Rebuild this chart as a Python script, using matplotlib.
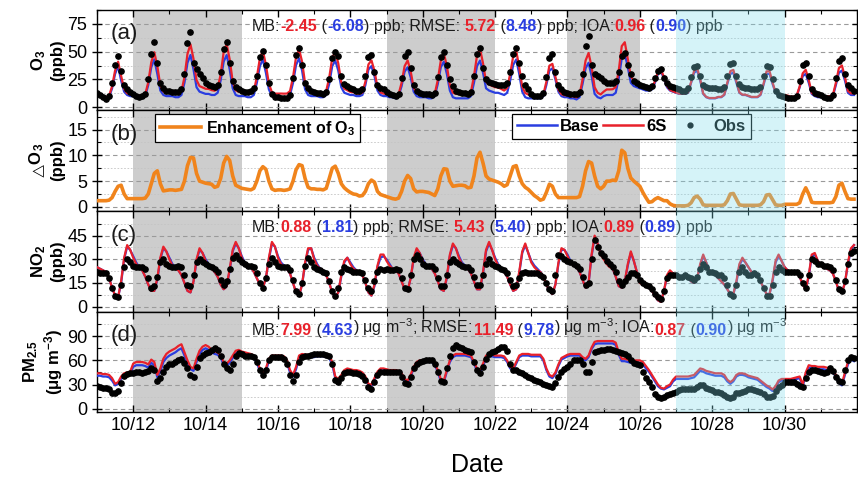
import matplotlib
matplotlib.use("Agg")
import matplotlib.pyplot as plt
import matplotlib.dates as mdates
from matplotlib import font_manager
import numpy as np
import pandas as pd

plt.rcParams["font.family"] = ["Liberation Sans", "DejaVu Sans"]
plt.rcParams["mathtext.fontset"] = "custom"
plt.rcParams["mathtext.rm"] = "Liberation Sans"
plt.rcParams["mathtext.it"] = "Liberation Sans:italic"
plt.rcParams["mathtext.bf"] = "Liberation Sans:bold"
plt.rcParams["mathtext.fallback"] = "stixsans"
plt.rcParams["axes.linewidth"] = 1.0

installed = {f.name for f in font_manager.fontManager.ttflist}
narrow = "Liberation Sans Narrow" if "Liberation Sans Narrow" in installed else "Liberation Sans"

# 2-hourly values, 10/11 00:00 -> 10/31 22:00 (12 values per day)
times = pd.date_range("2019-10-11", periods=252, freq="2h")

o3_obs = [
    13, 11, 9, 7, 10, 22, 38, 46, 33, 20, 16, 14,
    12, 10, 9, 10, 12, 25, 48, 59, 40, 22, 17, 15,
    15, 14, 14, 14, 16, 30, 58, 68, 40, 34, 30, 26,
    22, 20, 19, 18, 20, 32, 52, 59, 40, 24, 18, 16,
    15, 14, 14, 15, 17, 28, 45, 51, 38, 22, 12, 9,
    9, 8, 8, 8, 11, 26, 47, 53, 38, 22, 17, 15,
    14, 13, 13, 12, 14, 25, 44, 50, 46, 28, 21, 19,
    17, 16, 15, 15, 16, 28, 45, 47, 32, 20, 17, 16,
    14, 12, 11, 10, 12, 26, 46, 50, 35, 20, 15, 13,
    12, 12, 12, 11, 13, 27, 45, 50, 38, 25, 19, 15,
    14, 13, 13, 12, 14, 28, 48, 53, 35, 25, 23, 22,
    21, 20, 20, 20, 22, 32, 48, 53, 40, 28, 20, 16,
    12, 10, 10, 10, 13, 27, 44, 48, 32, 20, 16, 14,
    13, 12, 12, 12, 14, 30, 55, 64, 38, 30, 28, 26,
    24, 22, 22, 22, 24, 32, 46, 49, 38, 30, 24, 22,
    20, 19, 18, 17, 19, 26, 33, 34, 26, 22, 19, 18,
    17, 16, 15, 15, 17, 27, 36, 37, 28, 20, 18, 17,
    17, 17, 16, 16, 18, 28, 39, 40, 28, 21, 18, 17,
    17, 16, 16, 16, 18, 28, 37, 36, 25, 15, 11, 10,
    9, 8, 8, 8, 10, 24, 38, 40, 28, 16, 13, 12,
    11, 9, 8, 8, 11, 26, 42, 44, 30, 20, 17, 15,
]
o3_base = [
    11, 10, 9, 8, 9, 17, 30, 37, 24, 14, 11, 10,
    10, 9, 9, 8, 10, 20, 36, 43, 30, 15, 11, 10,
    10, 10, 9, 9, 11, 22, 40, 47, 34, 18, 14, 13,
    12, 12, 11, 11, 13, 24, 41, 47, 34, 17, 11, 10,
    10, 10, 9, 9, 11, 22, 37, 43, 31, 16, 10, 9,
    9, 9, 9, 9, 11, 22, 38, 44, 33, 16, 11, 10,
    10, 10, 9, 9, 11, 21, 37, 42, 33, 18, 13, 12,
    11, 11, 10, 10, 11, 20, 34, 37, 28, 15, 11, 10,
    10, 9, 9, 8, 10, 19, 32, 36, 27, 14, 10, 9,
    9, 9, 8, 8, 10, 21, 36, 41, 30, 15, 9, 8,
    8, 8, 8, 8, 10, 22, 37, 42, 31, 17, 15, 14,
    13, 13, 12, 11, 13, 24, 38, 43, 30, 14, 9, 8,
    8, 8, 8, 8, 10, 20, 33, 35, 25, 14, 10, 9,
    9, 8, 8, 7, 9, 21, 35, 40, 28, 12, 9, 8,
    10, 11, 11, 11, 13, 26, 44, 48, 36, 22, 19, 18,
    17, 16, 15, 15, 16, 22, 30, 32, 26, 18, 15, 14,
    13, 12, 12, 12, 13, 22, 31, 33, 24, 12, 9, 8,
    8, 8, 9, 9, 11, 21, 30, 31, 22, 13, 11, 11,
    10, 9, 9, 9, 11, 20, 30, 30, 21, 13, 11, 10,
    10, 10, 9, 9, 10, 18, 28, 30, 22, 12, 10, 9,
    9, 9, 9, 9, 10, 20, 31, 33, 24, 13, 11, 11,
]
# O3 enhancement of the 6S run over Base
d_o3 = [
    1.2, 1.2, 1.2, 1.2, 1.3, 1.8, 3.0, 4.0, 4.2, 2.5, 1.6, 1.6,
    1.6, 1.6, 1.6, 1.6, 1.7, 2.5, 4.5, 6.5, 7.0, 4.5, 3.1, 3.2,
    3.3, 3.3, 3.2, 3.3, 3.4, 5.0, 8.0, 9.6, 9.5, 6.5, 5.0, 4.8,
    4.6, 4.5, 4.4, 3.8, 4.0, 5.5, 8.5, 9.8, 9.0, 6.0, 4.2, 3.9,
    3.6, 3.5, 3.4, 3.3, 3.6, 5.0, 7.0, 7.8, 7.3, 5.0, 3.5, 3.2,
    3.3, 3.3, 3.2, 3.3, 3.5, 5.0, 7.2, 8.2, 8.0, 5.5, 3.8, 3.5,
    3.5, 3.4, 3.4, 3.3, 3.6, 5.5, 7.5, 7.9, 6.5, 4.5, 3.7, 3.2,
    2.8, 2.5, 2.4, 2.1, 2.2, 3.0, 4.5, 5.2, 4.8, 3.0, 2.4, 2.2,
    2.0, 1.8, 1.6, 1.5, 1.7, 3.0, 5.0, 6.1, 5.5, 3.5, 2.9, 3.0,
    3.0, 2.9, 2.8, 2.5, 2.2, 3.5, 6.0, 7.4, 7.3, 5.0, 4.0, 4.1,
    4.2, 4.2, 4.1, 3.7, 3.8, 6.0, 9.5, 10.6, 8.5, 6.0, 5.4, 5.2,
    5.0, 4.8, 4.5, 4.0, 4.3, 6.0, 7.8, 8.0, 6.0, 4.5, 3.8, 3.4,
    2.8, 2.2, 1.8, 1.3, 1.5, 2.8, 4.4, 4.0, 2.5, 1.8, 1.8, 1.8,
    1.8, 1.8, 1.8, 1.8, 2.0, 4.0, 7.0, 8.8, 8.5, 6.0, 4.0, 3.5,
    4.0, 5.0, 5.0, 5.2, 5.1, 7.0, 11.0, 10.5, 7.5, 5.6, 5.0, 4.5,
    4.0, 2.8, 1.8, 0.9, 1.0, 1.5, 1.8, 1.5, 1.2, 1.2, 0.6, 0.3,
    0.2, 0.2, 0.2, 0.2, 0.3, 0.8, 1.8, 2.1, 1.5, 0.4, 0.3, 0.3,
    0.3, 0.3, 0.3, 0.3, 0.4, 1.2, 2.5, 2.6, 1.5, 0.4, 0.3, 0.3,
    0.3, 0.3, 0.3, 0.3, 0.4, 1.0, 2.3, 2.4, 1.4, 0.4, 0.3, 0.3,
    0.5, 0.5, 0.5, 0.5, 0.5, 0.8, 2.5, 3.7, 2.5, 0.9, 0.8, 0.8,
    0.8, 0.8, 0.8, 0.8, 0.9, 2.0, 4.2, 4.6, 3.0, 1.6, 1.5, 1.5,
]

no2_obs = [
    22, 21, 21, 21, 18, 12, 7, 6, 14, 25, 30, 28,
    26, 25, 25, 25, 24, 18, 12, 13, 19, 28, 30, 27,
    26, 25, 25, 26, 25, 20, 14, 13, 20, 28, 30, 28,
    27, 26, 25, 24, 22, 17, 14, 16, 24, 31, 33, 30,
    28, 27, 26, 26, 25, 21, 15, 12, 18, 27, 31, 28,
    26, 25, 25, 25, 23, 17, 10, 8, 15, 26, 31, 28,
    25, 24, 23, 22, 21, 16, 10, 7, 12, 22, 25, 24,
    23, 22, 22, 22, 21, 17, 12, 10, 16, 22, 24, 23,
    24, 23, 23, 24, 23, 18, 12, 11, 20, 30, 33, 30,
    27, 26, 26, 26, 24, 18, 13, 13, 20, 28, 30, 28,
    27, 26, 25, 25, 23, 19, 14, 14, 20, 27, 30, 27,
    26, 25, 24, 23, 21, 17, 13, 14, 18, 21, 22, 21,
    21, 21, 21, 20, 19, 15, 11, 10, 20, 33, 32, 30,
    29, 28, 27, 26, 24, 19, 14, 15, 30, 42, 38, 34,
    32, 29, 27, 25, 22, 16, 14, 16, 19, 21, 21, 20,
    17, 15, 14, 13, 11, 8, 6, 5, 10, 18, 20, 20,
    20, 19, 19, 20, 19, 18, 17, 19, 24, 27, 25, 22,
    22, 21, 20, 20, 18, 14, 8, 7, 14, 22, 25, 22,
    20, 20, 21, 20, 17, 12, 7, 7, 14, 22, 25, 23,
    22, 22, 22, 22, 22, 20, 15, 12, 20, 30, 29, 27,
    27, 26, 26, 25, 23, 17, 11, 10, 16, 27, 34, 35,
]
no2_base = [
    25, 24, 23, 22, 18, 12, 7, 6, 15, 30, 38, 36,
    32, 28, 25, 23, 19, 14, 10, 10, 17, 30, 37, 35,
    31, 27, 25, 23, 20, 15, 10, 9, 16, 29, 36, 34,
    30, 27, 25, 22, 19, 14, 11, 13, 23, 35, 40, 37,
    32, 28, 26, 25, 22, 18, 14, 12, 18, 30, 40, 38,
    32, 28, 26, 24, 21, 15, 9, 7, 14, 27, 36, 37,
    31, 27, 24, 23, 20, 15, 9, 6, 9, 19, 28, 31,
    28, 25, 23, 22, 20, 15, 9, 7, 13, 25, 31, 32,
    30, 27, 24, 23, 21, 16, 11, 10, 18, 30, 36, 34,
    30, 27, 25, 24, 21, 16, 11, 10, 18, 32, 39, 37,
    32, 28, 26, 24, 21, 16, 11, 11, 21, 35, 40, 36,
    31, 27, 24, 22, 19, 14, 10, 11, 21, 34, 39, 34,
    29, 26, 24, 22, 19, 14, 10, 8, 14, 27, 36, 36,
    33, 29, 26, 25, 22, 17, 12, 15, 32, 44, 40, 34,
    31, 28, 26, 24, 19, 13, 12, 16, 26, 34, 29, 22,
    16, 14, 13, 12, 10, 7, 4, 3, 10, 19, 22, 21,
    20, 19, 19, 19, 18, 16, 15, 18, 26, 32, 28, 23,
    22, 20, 18, 16, 14, 11, 8, 8, 15, 26, 30, 28,
    25, 22, 20, 19, 16, 12, 8, 8, 16, 28, 32, 29,
    25, 23, 22, 22, 21, 19, 14, 11, 19, 32, 33, 29,
    27, 25, 24, 23, 21, 16, 10, 9, 15, 27, 36, 39,
]
no2_6s = [
    25, 24, 23, 22, 18, 12, 7, 6, 16, 31, 39, 36,
    31, 27, 25, 23, 19, 14, 10, 10, 18, 31, 38, 35,
    30, 26, 24, 23, 20, 15, 10, 9, 16, 30, 37, 34,
    29, 26, 24, 22, 19, 14, 11, 13, 24, 36, 41, 37,
    31, 27, 26, 25, 22, 18, 14, 12, 18, 31, 41, 38,
    31, 27, 25, 24, 21, 15, 9, 7, 14, 28, 37, 37,
    30, 26, 24, 23, 20, 15, 9, 6, 9, 20, 29, 31,
    27, 24, 23, 22, 20, 15, 9, 7, 14, 26, 33, 33,
    29, 26, 24, 23, 21, 16, 11, 10, 18, 31, 37, 34,
    29, 26, 25, 24, 21, 16, 11, 10, 19, 33, 40, 37,
    31, 27, 25, 24, 21, 16, 11, 11, 22, 36, 41, 36,
    30, 26, 24, 22, 19, 14, 10, 11, 22, 35, 40, 34,
    28, 25, 23, 22, 19, 14, 10, 8, 14, 28, 37, 36,
    32, 28, 26, 25, 22, 17, 12, 15, 33, 45, 40, 33,
    30, 27, 25, 24, 19, 13, 12, 16, 27, 35, 29, 22,
    15, 14, 13, 12, 10, 7, 4, 3, 10, 20, 23, 21,
    20, 19, 19, 19, 18, 16, 15, 18, 27, 33, 28, 23,
    22, 20, 18, 16, 14, 11, 8, 8, 16, 27, 31, 28,
    25, 22, 20, 19, 16, 12, 8, 8, 17, 29, 33, 29,
    25, 23, 22, 22, 21, 19, 14, 11, 20, 33, 34, 29,
    27, 25, 24, 23, 21, 16, 10, 9, 15, 28, 37, 39,
]

pm_obs = [
    28, 27, 26, 26, 24, 20, 19, 22, 32, 41, 43, 44,
    44, 45, 45, 44, 45, 47, 50, 48, 34, 38, 46, 52,
    55, 56, 58, 60, 62, 57, 50, 42, 40, 52, 63, 67,
    69, 71, 73, 75, 73, 66, 56, 50, 48, 56, 66, 69,
    68, 66, 66, 65, 64, 58, 48, 42, 48, 60, 64, 64,
    64, 64, 62, 56, 42, 35, 42, 58, 64, 65, 66, 67,
    68, 68, 68, 68, 67, 66, 55, 36, 33, 38, 44, 46,
    45, 44, 44, 43, 41, 36, 27, 25, 33, 42, 46, 46,
    46, 46, 46, 46, 45, 40, 32, 31, 40, 50, 56, 58,
    59, 60, 60, 60, 55, 45, 35, 33, 50, 66, 75, 79,
    77, 75, 73, 72, 70, 58, 48, 44, 52, 62, 68, 70,
    72, 74, 76, 77, 72, 56, 48, 48, 46, 44, 42, 40,
    38, 36, 34, 33, 31, 30, 28, 27, 32, 40, 46, 49,
    52, 56, 60, 60, 60, 55, 46, 45, 58, 70, 72, 73,
    73, 74, 74, 73, 72, 70, 69, 68, 66, 60, 57, 55,
    54, 45, 38, 33, 27, 18, 14, 13, 15, 17, 18, 20,
    21, 23, 25, 25, 25, 24, 24, 27, 29, 29, 26, 24,
    23, 21, 21, 20, 17, 14, 13, 15, 19, 20, 21, 22,
    24, 24, 23, 22, 21, 18, 15, 15, 16, 22, 27, 30,
    33, 33, 33, 33, 31, 28, 27, 38, 46, 48, 48, 47,
    45, 44, 46, 50, 47, 40, 34, 33, 48, 60, 64, 63,
]
pm_base = [
    41, 41, 40, 40, 39, 35, 29, 31, 37, 41, 42, 43,
    52, 54, 54, 54, 53, 51, 57, 54, 39, 46, 58, 63,
    66, 68, 70, 73, 75, 66, 56, 49, 47, 58, 68, 73,
    75, 73, 70, 68, 67, 63, 55, 53, 57, 63, 69, 70,
    68, 67, 66, 65, 63, 57, 47, 42, 47, 59, 63, 63,
    63, 63, 62, 57, 45, 40, 49, 63, 65, 64, 64, 64,
    64, 65, 65, 65, 64, 63, 55, 38, 35, 40, 46, 48,
    47, 46, 46, 45, 43, 38, 29, 28, 36, 44, 48, 48,
    47, 46, 46, 46, 45, 42, 35, 33, 40, 50, 56, 58,
    58, 58, 58, 58, 54, 46, 34, 33, 46, 58, 64, 66,
    66, 66, 66, 65, 64, 56, 47, 45, 53, 63, 65, 65,
    64, 64, 64, 63, 58, 50, 48, 56, 64, 66, 66, 66,
    65, 65, 65, 65, 60, 48, 40, 38, 43, 53, 61, 63,
    65, 66, 66, 66, 66, 62, 60, 64, 74, 80, 81, 81,
    81, 81, 81, 81, 79, 67, 59, 59, 58, 57, 57, 57,
    57, 55, 50, 46, 40, 34, 28, 25, 24, 26, 28, 34,
    37, 37, 37, 37, 37, 38, 39, 43, 47, 46, 44, 43,
    42, 41, 41, 41, 39, 34, 31, 34, 40, 42, 42, 41,
    39, 38, 37, 36, 33, 30, 27, 25, 22, 26, 33, 35,
    35, 35, 35, 36, 37, 38, 28, 42, 51, 50, 50, 49,
    49, 49, 48, 47, 45, 40, 32, 29, 42, 55, 61, 59,
]
pm_6s = [
    44, 44, 43, 43, 42, 38, 31, 33, 40, 44, 45, 46,
    56, 58, 58, 58, 57, 55, 61, 58, 42, 50, 62, 68,
    71, 73, 75, 78, 80, 70, 60, 52, 50, 62, 72, 77,
    79, 77, 73, 71, 70, 66, 58, 56, 60, 66, 72, 73,
    71, 70, 69, 68, 66, 60, 50, 44, 50, 62, 66, 66,
    66, 66, 65, 60, 48, 42, 52, 66, 68, 67, 67, 67,
    67, 68, 68, 68, 67, 66, 58, 40, 37, 42, 48, 50,
    49, 48, 48, 47, 45, 40, 31, 30, 38, 46, 50, 50,
    49, 48, 48, 48, 47, 44, 37, 35, 42, 52, 58, 60,
    60, 60, 60, 60, 56, 48, 37, 35, 48, 60, 66, 68,
    68, 68, 68, 67, 66, 58, 50, 48, 56, 66, 67, 67,
    66, 66, 66, 65, 60, 52, 50, 58, 66, 68, 68, 68,
    67, 67, 67, 67, 62, 50, 42, 40, 45, 55, 63, 65,
    67, 68, 68, 68, 68, 64, 62, 66, 76, 83, 84, 84,
    84, 84, 84, 84, 82, 70, 62, 62, 61, 60, 60, 60,
    60, 58, 53, 48, 42, 36, 30, 26, 25, 28, 30, 36,
    40, 40, 40, 40, 40, 41, 42, 46, 50, 49, 47, 46,
    45, 44, 44, 44, 42, 36, 33, 36, 42, 44, 44, 43,
    41, 40, 39, 38, 35, 32, 29, 27, 24, 28, 35, 37,
    37, 37, 37, 38, 39, 40, 30, 45, 54, 53, 53, 52,
    52, 52, 51, 50, 48, 42, 34, 31, 45, 58, 64, 62,
]

gray_days = [("2019-10-12", "2019-10-15"), ("2019-10-19", "2019-10-22"),
             ("2019-10-24", "2019-10-26")]
cyan_days = [("2019-10-27", "2019-10-30")]

stats_o3 = ["-2.45", "-6.08", "5.72", "8.48", "0.96", "0.90"]
stats_no2 = ["0.88", "1.81", "5.43", "5.40", "0.89", "0.89"]
stats_pm = ["7.99", "4.63", "11.49", "9.78", "0.87", "0.90"]

yticks_o3 = [0, 25, 50, 75]
yticks_d = [0, 5, 10, 15]
yticks_no2 = [0, 15, 30, 45]
yticks_pm = [0, 30, 60, 90]

RED = "#e8212b"
BLUE = "#2a3ee0"
ORANGE = "#f0841c"
TXT = "#1a1a1a"

o3_6s = np.array(o3_base) + np.array(d_o3)

fig = plt.figure(figsize=(8.58, 4.88), dpi=100)


def panel(top, bottom):
    return fig.add_axes([97 / 858, 1 - bottom / 488, 760 / 858, (bottom - top) / 488])


axes = [panel(10, 110), panel(110, 211), panel(211, 312), panel(312, 412)]

for ax in axes:
    for a, b in gray_days:
        ax.axvspan(pd.Timestamp(a), pd.Timestamp(b), color="#cdcdcd", lw=0, zorder=0)
    for a, b in cyan_days:
        ax.axvspan(pd.Timestamp(a), pd.Timestamp(b), color=(0.49, 0.86, 0.92),
                   alpha=0.32, lw=0, zorder=20)
    ax.set_axisbelow(True)
    ax.grid(which="major", axis="y", color="#9a9a9a", ls=(0, (4, 3)), lw=0.8)
    ax.grid(which="minor", axis="y", color="#c4c4c4", ls=(0, (2, 2)), lw=0.6)
    ax.set_xlim(pd.Timestamp("2019-10-11"), pd.Timestamp("2019-11-01"))
    ax.xaxis.set_major_locator(mdates.DayLocator(bymonthday=range(12, 31, 2)))
    ax.xaxis.set_minor_locator(mdates.DayLocator())
    ax.xaxis.set_major_formatter(mdates.DateFormatter("%m/%d"))
    ax.tick_params(which="both", direction="in", top=True, right=True, labelsize=13)
    ax.tick_params(which="major", length=5, width=1)
    ax.tick_params(which="minor", length=3, width=0.8)
    ax.tick_params(axis="y", which="major", direction="inout", length=7)
    if ax is not axes[-1]:
        ax.tick_params(labelbottom=False)


def set_y(ax, lo, hi, ticks):
    ax.set_ylim(lo, hi)
    ax.set_yticks(ticks)
    step = ticks[1] - ticks[0]
    ax.set_yticks([t + step / 2 for t in ticks], minor=True)


# (a) O3
ax = axes[0]
ax.plot(times, o3_base, color=BLUE, lw=1.6, zorder=3)
ax.plot(times, o3_6s, color=RED, lw=1.6, zorder=3)
ax.plot(times, o3_obs, ls="none", marker="o", ms=3.8, color="black", zorder=4)
set_y(ax, -2.5, 85, yticks_o3)
ax.set_ylabel("O$_\\mathbf{3}$\n(ppb)", fontsize=12, fontweight="bold", linespacing=1.15)

# (b) enhancement of O3
ax = axes[1]
ax.plot(times, d_o3, color=ORANGE, lw=2.6, zorder=3, label="Enhancement of O$_\\mathbf{3}$")
set_y(ax, -0.8, 18.8, yticks_d)
ax.set_ylabel("$_\\mathregular{△}$O$_\\mathbf{3}$\n(ppb)", fontsize=12, fontweight="bold",
              linespacing=1.15)
leg1 = ax.legend(loc="upper left", bbox_to_anchor=(0.0763, 0.96), borderaxespad=0,
                 frameon=True, fancybox=False, edgecolor="black", framealpha=1,
                 handlelength=2.6, handletextpad=0.3, borderpad=0.3,
                 prop={"weight": "bold", "size": 11.5})
leg1.get_frame().set_linewidth(0.9)
ax.add_artist(leg1)
h_base, = ax.plot([], [], color=BLUE, lw=1.8, label="Base")
h_6s, = ax.plot([], [], color=RED, lw=1.8, label="6S")
h_obs, = ax.plot([], [], ls="none", marker="o", ms=3.5, color="black", label="Obs")
leg2 = ax.legend(handles=[h_base, h_6s, h_obs], loc="upper left", bbox_to_anchor=(0.546, 0.96),
                 borderaxespad=0, ncol=3, frameon=True, fancybox=False, edgecolor="black",
                 framealpha=1, handlelength=2.4, handletextpad=0.2, columnspacing=0.2,
                 borderpad=0.3, numpoints=1, prop={"weight": "bold", "size": 12})
leg2.get_frame().set_linewidth(0.9)

# (c) NO2
ax = axes[2]
ax.plot(times, no2_base, color=BLUE, lw=1.6, zorder=3)
ax.plot(times, no2_6s, color=RED, lw=1.6, zorder=3)
ax.plot(times, no2_obs, ls="none", marker="o", ms=3.8, color="black", zorder=4)
set_y(ax, -3.4, 60.6, yticks_no2)
ax.set_ylabel("NO$_\\mathbf{2}$\n(ppb)", fontsize=12, fontweight="bold", linespacing=1.15)

# (d) PM2.5
ax = axes[3]
ax.plot(times, pm_base, color=BLUE, lw=1.6, zorder=3)
ax.plot(times, pm_6s, color=RED, lw=1.6, zorder=3)
ax.plot(times, pm_obs, ls="none", marker="o", ms=3.8, color="black", zorder=4)
set_y(ax, -4, 120, yticks_pm)
ax.set_ylabel("PM$_\\mathbf{2.5}$\n(μg m$^\\mathbf{-3}$)", fontsize=12, fontweight="bold",
              linespacing=1.15)
ax.set_xlabel("Date", fontsize=18, family=narrow, labelpad=14)
for lab in ax.get_xticklabels():
    lab.set_family(narrow)
    lab.set_fontsize(13)

for ax in axes:
    ax.yaxis.set_label_coords(-0.042, 0.5)

for ax, tag in zip(axes, "abcd"):
    ax.text(0.018, 0.76, f"({tag})", transform=ax.transAxes, fontsize=16, color=TXT,
            va="center", zorder=6)


def stats_line(ax, y, vals, unit):
    pieces = [("MB:", TXT, "normal"), (vals[0], RED, "bold"), (" (", TXT, "normal"),
              (vals[1], BLUE, "bold"), (f") {unit}; RMSE: ", TXT, "normal"),
              (vals[2], RED, "bold"), (" (", TXT, "normal"), (vals[3], BLUE, "bold"),
              (f") {unit}; IOA:", TXT, "normal"), (vals[4], RED, "bold"),
              (" (", TXT, "normal"), (vals[5], BLUE, "bold"), (f") {unit}", TXT, "normal")]
    s, c, w = pieces[0]
    t = ax.text(0.204, y, s, transform=ax.transAxes, color=c, fontweight=w, fontsize=11.5,
                va="bottom", ha="left", zorder=6)
    for s, c, w in pieces[1:]:
        t = ax.annotate(s, xy=(1, 0), xycoords=t, color=c, fontweight=w, fontsize=11.5,
                        va="bottom", ha="left", zorder=6)


stats_line(axes[0], 0.76, stats_o3, "ppb")
stats_line(axes[2], 0.76, stats_no2, "ppb")
stats_line(axes[3], 0.74, stats_pm, "μg m$^{-3}$")

fig.savefig("out.png", dpi=100)
